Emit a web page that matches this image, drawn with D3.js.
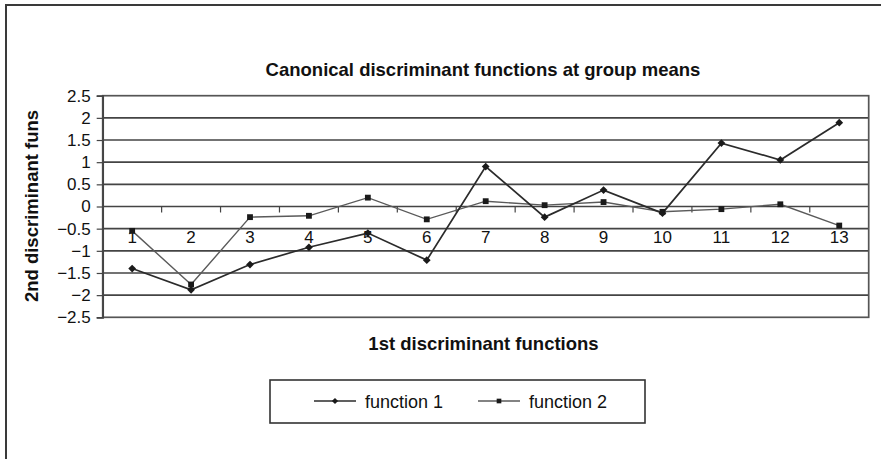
<!DOCTYPE html>
<html>
<head>
<meta charset="utf-8">
<script src="https://cdn.jsdelivr.net/npm/d3@7/dist/d3.min.js"></script>
<style>
  html, body { margin: 0; padding: 0; background: #fff; }
  svg { display: block; font-family: "Liberation Sans", Arial, Helvetica, sans-serif; }
</style>
</head>
<body>
<svg id="chart" width="881" height="459"></svg>
<script>
// Group numbers along the category axis
const groups = ["1","2","3","4","5","6","7","8","9","10","11","12","13"];
// Group means of the two canonical discriminant functions
const function1 = [-1.40, -1.88, -1.31, -0.92, -0.60, -1.21, 0.90, -0.24, 0.37, -0.15, 1.43, 1.05, 1.89];
const function2 = [-0.55, -1.76, -0.24, -0.21, 0.20, -0.29, 0.12, 0.03, 0.10, -0.12, -0.06, 0.05, -0.43];
// Value axis ticks
const yTicks = [-2.5, -2, -1.5, -1, -0.5, 0, 0.5, 1, 1.5, 2, 2.5];
const seriesNames = ["function 1", "function 2"];

const svg = d3.select("#chart");
const W = 881, H = 459;
const plot = { left: 102.7, right: 868.7, top: 95.7, bottom: 317.3 };

// Outer frame
svg.append("rect")
  .attr("x", 6).attr("y", 5).attr("width", W).attr("height", H)
  .attr("fill", "none").attr("stroke", "#3a3a3a").attr("stroke-width", 2);

const x = d3.scaleBand().domain(groups).range([plot.left, plot.right]).padding(0);
const y = d3.scaleLinear().domain([-2.5, 2.5]).range([plot.bottom, plot.top]);

// Horizontal gridlines
svg.append("g").selectAll("line")
  .data(yTicks.filter(v => v > -2.5 && v < 2.5))
  .join("line")
  .attr("x1", plot.left).attr("x2", plot.right)
  .attr("y1", d => y(d)).attr("y2", d => y(d))
  .attr("stroke", "#444").attr("stroke-width", 1.7);

// Plot frame
svg.append("rect")
  .attr("x", plot.left).attr("y", plot.top)
  .attr("width", plot.right - plot.left).attr("height", plot.bottom - plot.top)
  .attr("fill", "none").attr("stroke", "#555").attr("stroke-width", 1.7);

// Value axis
const fmt = v => (v < 0 ? "\u2212" : "") + d3.format("")(Math.abs(v));
const yAxis = svg.append("g")
  .attr("transform", `translate(${plot.left},0)`)
  .call(d3.axisLeft(y).tickValues(yTicks).tickFormat(fmt).tickSize(6).tickPadding(6));
yAxis.select(".domain").attr("stroke", "#444").attr("stroke-width", 1.7);
yAxis.selectAll(".tick line").attr("stroke", "#444").attr("stroke-width", 1.2);
yAxis.selectAll("text").attr("font-size", 17).attr("fill", "#111");

// Category axis crossing at zero
const y0 = y(0);
const xAxis = svg.append("g")
  .attr("transform", `translate(0,${y0})`)
  .call(d3.axisBottom(x).tickSize(0).tickPadding(24));
xAxis.select(".domain").remove();
xAxis.selectAll("text").attr("font-size", 17).attr("fill", "#111");

// Tick marks between categories
svg.append("g").selectAll("line")
  .data(groups.slice(1))
  .join("line")
  .attr("x1", d => x(d)).attr("x2", d => x(d))
  .attr("y1", y0).attr("y2", y0 + 6)
  .attr("stroke", "#444").attr("stroke-width", 1.2);

// Series
const cx = (d, i) => x(groups[i]) + x.bandwidth() / 2;
const line = d3.line().x((d, i) => cx(d, i)).y(d => y(d));

svg.append("path").datum(function2)
  .attr("d", line).attr("fill", "none")
  .attr("stroke", "#5a5a5a").attr("stroke-width", 1.4);
svg.append("path").datum(function1)
  .attr("d", line).attr("fill", "none")
  .attr("stroke", "#2b2b2b").attr("stroke-width", 1.7);

// Diamond = square turned 45 degrees
const diamond = d3.symbol().type(d3.symbolSquare).size(30);
const square = d3.symbol().type(d3.symbolSquare).size(34);

svg.append("g").selectAll("path")
  .data(function2).join("path")
  .attr("d", square)
  .attr("transform", (d, i) => `translate(${cx(d, i)},${y(d)})`)
  .attr("fill", "#1a1a1a");
svg.append("g").selectAll("path")
  .data(function1).join("path")
  .attr("d", diamond)
  .attr("transform", (d, i) => `translate(${cx(d, i)},${y(d)}) rotate(45)`)
  .attr("fill", "#1a1a1a");

// Titles
svg.append("text")
  .attr("x", 483).attr("y", 76)
  .attr("text-anchor", "middle").attr("font-size", 18.5).attr("font-weight", "bold")
  .attr("fill", "#111")
  .text("Canonical discriminant functions at group means");

svg.append("text")
  .attr("x", 483.5).attr("y", 350)
  .attr("text-anchor", "middle").attr("font-size", 18.5).attr("font-weight", "bold")
  .attr("fill", "#111")
  .text("1st discriminant functions");

svg.append("text")
  .attr("transform", "translate(38,206) rotate(-90)")
  .attr("text-anchor", "middle").attr("font-size", 18.5).attr("font-weight", "bold")
  .attr("fill", "#111")
  .text("2nd discriminant funs");

// Legend
const legend = svg.append("g");
legend.append("rect")
  .attr("x", 270).attr("y", 380).attr("width", 375).attr("height", 43)
  .attr("fill", "#fff").attr("stroke", "#333").attr("stroke-width", 1.6);

const legendX = [314, 478];
const legendColors = ["#2b2b2b", "#5a5a5a"];
const legendRot = [45, 0];
const markers = [diamond, square];
seriesNames.forEach((name, i) => {
  const g = legend.append("g").attr("transform", `translate(${legendX[i]},401)`);
  g.append("line").attr("x1", 0).attr("x2", 42).attr("y1", 0).attr("y2", 0)
    .attr("stroke", legendColors[i]).attr("stroke-width", 1.4);
  g.append("path").attr("d", markers[i])
    .attr("transform", `translate(21,0) rotate(${legendRot[i]}) scale(0.8)`)
    .attr("fill", "#1a1a1a");
  g.append("text").attr("x", 51).attr("y", 6.5)
    .attr("font-size", 18).attr("fill", "#111").text(name);
});
</script>
</body>
</html>
